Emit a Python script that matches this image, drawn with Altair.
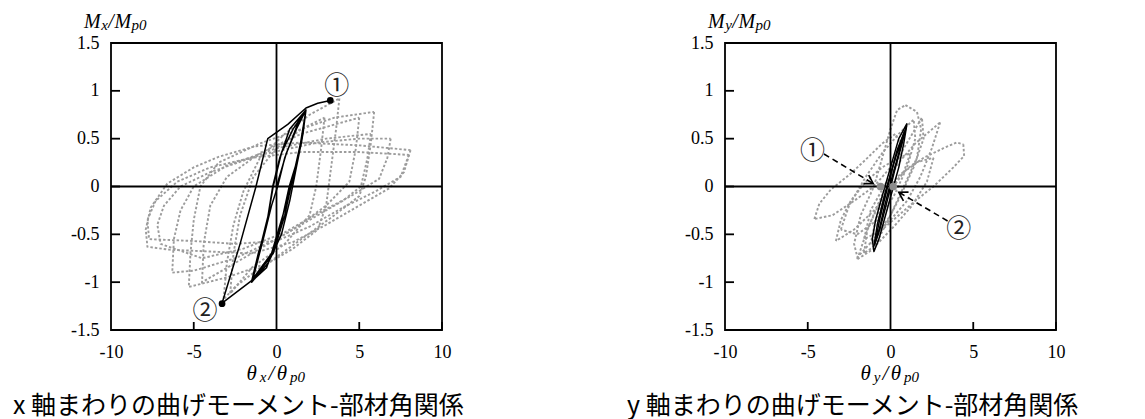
import math
import altair as alt
import pandas as pd

# ---------------- shared axis values ----------------
X_TICKS = [-10, -5, 0, 5, 10]
Y_TICKS = [-1.5, -1, -0.5, 0, 0.5, 1, 1.5]
X_INNER = [-5, 5]
Y_INNER = [-1.5, -1, -0.5, 0, 0.5, 1]

# ---------------- left panel: Mx/Mp0 vs θx/θp0 ----------------
# gray dotted loops (theta, M)
lg1 = [(3.8, 0.92), (3.6, 0.6), (3.3, 0.2), (3.0, -0.2), (2.5, -0.45), (1.0, -0.65), (-1.0, -0.85),
       (-2.5, -1.05), (-3.2, -1.18), (-3.0, -0.8), (-2.6, -0.4), (-2.0, -0.05), (-1.0, 0.3),
       (0.5, 0.55), (2.0, 0.75), (3.8, 0.92)]
lg2 = [(5.9, 0.78), (5.7, 0.45), (5.4, 0.1), (5.0, -0.1), (3.5, -0.3), (1.5, -0.55), (-0.5, -0.8),
       (-3.0, -0.95), (-5.3, -1.05), (-5.2, -0.7), (-5.0, -0.35), (-4.6, 0.0), (-3.5, 0.25),
       (-1.0, 0.45), (1.5, 0.6), (3.5, 0.72), (5.9, 0.78)]
lg3 = [(8.1, 0.38), (7.7, 0.15), (6.8, -0.02), (5.0, -0.2), (3.0, -0.4), (1.0, -0.58), (-1.5, -0.7),
       (-4.0, -0.68), (-6.5, -0.66), (-7.8, -0.63), (-7.9, -0.45), (-7.6, -0.22), (-6.6, 0.03),
       (-5.0, 0.2), (-3.5, 0.31), (-1.3, 0.42), (1.5, 0.46), (5.0, 0.43), (8.1, 0.38)]
lg4 = [(8.0, 0.33), (7.5, 0.1), (6.0, -0.05), (4.0, -0.22), (2.0, -0.42), (0.0, -0.57), (-2.5, -0.6),
       (-5.0, -0.57), (-7.7, -0.55), (-7.8, -0.35), (-7.3, -0.15), (-6.0, 0.05), (-4.0, 0.2),
       (-1.5, 0.3), (1.5, 0.36), (5.0, 0.36), (8.0, 0.33)]
lg5 = [(5.7, 0.55), (5.5, 0.3), (5.1, 0.0), (4.0, -0.15), (2.0, -0.35), (0.0, -0.55), (-2.5, -0.75),
       (-5.0, -0.88), (-6.3, -0.9), (-6.2, -0.55), (-5.8, -0.25), (-5.0, 0.0), (-3.0, 0.22),
       (0.0, 0.4), (3.0, 0.5), (5.7, 0.55)]
lg6 = [(5.0, 0.72), (4.8, 0.4), (4.4, 0.05), (3.0, -0.2), (1.0, -0.45), (-1.5, -0.7), (-4.0, -0.95),
       (-4.5, -1.0), (-4.4, -0.6), (-4.0, -0.2), (-3.0, 0.1), (-1.0, 0.35), (1.5, 0.55), (5.0, 0.72)]
lg7 = [(2.9, 0.72), (2.7, 0.4), (2.4, 0.0), (2.0, -0.3), (0.5, -0.6), (-1.5, -0.85), (-2.8, -1.12),
       (-2.6, -0.7), (-2.2, -0.3), (-1.4, 0.1), (0.0, 0.4), (1.5, 0.6), (2.9, 0.72)]
lg8 = [(6.9, 0.5), (6.7, 0.3), (6.2, 0.08), (4.5, -0.1), (2.5, -0.28), (0.5, -0.48), (-2.0, -0.65),
       (-4.5, -0.75), (-7.0, -0.6), (-7.2, -0.4), (-6.8, -0.2), (-5.8, 0.0), (-4.0, 0.15),
       (-1.0, 0.33), (2.5, 0.46), (5.0, 0.5), (6.9, 0.5)]
LEFT_GRAY = [lg1, lg2, lg3, lg4, lg5, lg6, lg7, lg8]

# black solid path
lb1 = [(0.0, 0.0), (0.6, 0.35), (1.2, 0.6), (1.78, 0.8),
       (1.55, 0.5), (1.2, 0.2), (0.8, -0.15), (0.3, -0.5), (-0.5, -0.8), (-1.5, -1.0),
       (-1.0, -0.65), (-0.5, -0.3), (-0.2, 0.0), (0.3, 0.35), (1.0, 0.6), (1.78, 0.8),
       (1.45, 0.45), (1.0, 0.1), (0.5, -0.3), (-0.2, -0.7), (-1.45, -0.98),
       (-0.8, -0.55), (-0.3, -0.2), (0.07, 0.0), (0.5, 0.3), (1.2, 0.62), (1.78, 0.8),
       (1.6, 0.55), (1.3, 0.3), (0.77, 0.0), (0.2, -0.45), (-0.6, -0.85), (-1.5, -0.99),
       (-1.1, -0.7), (-0.6, -0.4), (-0.23, 0.0), (0.2, 0.3), (0.8, 0.6), (1.78, 0.8),
       (1.5, 0.45), (1.1, 0.15), (0.47, -0.25), (-0.3, -0.7), (-1.54, -0.99),
       (-3.29, -1.22), (-2.2, -0.6), (-1.24, 0.0), (-0.53, 0.5), (0.68, 0.65), (1.78, 0.82),
       (2.49, 0.87), (3.25, 0.9)]
LEFT_BLACK = [lb1]
LEFT_DOTS = [(3.25, 0.9), (-3.29, -1.225)]
LEFT_LABELS = [(3.64, 1.05, "①"), (-4.32, -1.30, "②")]

# ---------------- right panel: My/Mp0 vs θy/θp0 ----------------
rg1 = [(0.9, 0.85), (1.6, 0.78), (1.85, 0.6), (1.6, 0.3), (0.8, 0.0), (0.0, -0.3), (-1.0, -0.55),
       (-2.0, -0.74), (-2.2, -0.6), (-1.8, -0.3), (-1.0, 0.0), (-0.5, 0.3), (0.0, 0.6), (0.4, 0.8),
       (0.9, 0.85)]
rg2 = [(4.4, 0.44), (4.45, 0.32), (3.8, 0.2), (2.6, 0.0), (1.5, -0.15), (0.5, -0.3), (-0.5, -0.45),
       (-1.2, -0.6), (-0.9, -0.35), (-0.2, -0.05), (0.8, 0.15), (2.0, 0.3), (3.2, 0.4), (4.0, 0.46),
       (4.4, 0.44)]
rg3 = [(-4.6, -0.34), (-4.3, -0.18), (-3.6, -0.03), (-2.5, 0.12), (-1.5, 0.28), (-0.5, 0.45),
       (0.3, 0.55), (0.6, 0.45), (0.0, 0.2), (-1.0, 0.0), (-2.2, -0.15), (-3.5, -0.3), (-4.6, -0.34)]
rg4 = [(3.0, 0.67), (2.5, 0.4), (1.8, 0.1), (1.0, -0.15), (0.0, -0.35), (-1.0, -0.5), (-1.6, -0.55),
       (-1.2, -0.25), (-0.4, 0.0), (0.5, 0.25), (1.5, 0.45), (3.0, 0.67)]
rg5 = [(-3.3, -0.57), (-3.0, -0.35), (-2.4, -0.15), (-1.5, 0.05), (-0.5, 0.2), (0.5, 0.3),
       (1.2, 0.35), (0.8, 0.15), (0.0, -0.05), (-1.0, -0.25), (-2.2, -0.45), (-3.3, -0.57)]
rg6 = [(-2.0, -0.76), (-1.5, -0.5), (-0.8, -0.2), (0.0, 0.1), (0.8, 0.4), (1.9, 0.72), (2.0, 0.5),
       (1.4, 0.2), (0.6, -0.1), (-0.3, -0.4), (-1.0, -0.65), (-2.0, -0.76)]
rg7 = [(-3.0, -0.45), (-2.5, -0.2), (-1.5, 0.1), (-0.5, 0.35), (0.5, 0.55), (1.4, 0.7), (1.5, 0.5),
       (1.0, 0.2), (0.2, -0.1), (-0.8, -0.35), (-2.0, -0.5), (-3.0, -0.45)]
rg8 = [(2.6, 0.3), (2.2, 0.05), (1.3, -0.2), (0.3, -0.4), (-0.8, -0.6), (-1.6, -0.7), (-1.4, -0.45),
       (-0.6, -0.15), (0.4, 0.1), (1.5, 0.25), (2.6, 0.3)]
RIGHT_GRAY = [rg1, rg2, rg3, rg4, rg5, rg6, rg7, rg8]

rb1 = [(1.0, 0.66), (0.5, 0.5), (0.0, 0.2), (-0.5, -0.1), (-0.9, -0.35), (-1.1, -0.55), (-1.0, -0.68),
       (-0.7, -0.55), (-0.3, -0.3), (0.1, -0.05), (0.5, 0.2), (0.8, 0.45), (1.0, 0.66)]
rb2 = [(0.95, 0.62), (0.4, 0.38), (-0.1, 0.05), (-0.6, -0.3), (-0.95, -0.6), (-0.6, -0.42),
       (-0.2, -0.15), (0.3, 0.2), (0.7, 0.45), (0.95, 0.62)]
rb3 = [(0.85, 0.58), (0.3, 0.3), (-0.3, -0.05), (-0.8, -0.4), (-1.0, -0.62), (-0.75, -0.5),
       (-0.35, -0.2), (0.1, 0.1), (0.55, 0.38), (0.85, 0.58)]
RIGHT_BLACK = [rb1, rb2, rb3]
RIGHT_DOTS = [(-0.6, 0.0), (0.16, 0.0)]
RIGHT_LABELS = [(-4.72, 0.37, "①"), (4.12, -0.44, "②")]
RIGHT_ARROWS = [[(-4.02, 0.34), (-1.04, 0.03)], [(3.45, -0.36), (0.5, -0.06)]]

# ---------------- texts ----------------
LEFT_TITLE = "x 軸まわりの曲げモーメント-部材角関係"
RIGHT_TITLE = "y 軸まわりの曲げモーメント-部材角関係"
LEFT_YT = [("M", 20, 0.833), ("x", 15, 0.444), ("/", 20, 0.278), ("M", 20, 0.833), ("p0", 15, 1.0)]
RIGHT_YT = [("M", 20, 0.833), ("y", 15, 0.444), ("/", 20, 0.278), ("M", 20, 0.833), ("p0", 15, 1.0)]
LEFT_XT = [("θ", 21, 0.56), ("x", 15, 0.48), ("/", 21, 0.32), ("θ", 21, 0.56), ("p0", 15, 1.0)]
RIGHT_XT = [("θ", 21, 0.56), ("y", 15, 0.48), ("/", 21, 0.32), ("θ", 21, 0.56), ("p0", 15, 1.0)]

W, H = 331, 287
SERIF = "Liberation Serif"
CJK = "Noto Sans CJK JP"

xs = alt.Scale(domain=[-10, 10], nice=False, zero=False)
ys = alt.Scale(domain=[-1.5, 1.5], nice=False, zero=False)
xax = alt.Axis(values=X_TICKS, labelExpr="datum.value + ''", title=None, domain=False, ticks=False,
               tickSize=0, grid=False, labelFont=SERIF, labelFontSize=18, labelColor="black",
               labelPadding=13, labelFlush=False, labelOverlap=False)
yax = alt.Axis(values=Y_TICKS, labelExpr="datum.value + ''", title=None, domain=False, ticks=False,
               tickSize=0, grid=False, labelFont=SERIF, labelFontSize=18, labelColor="black",
               labelPadding=12, labelFlush=False, labelOverlap=False)


def X(f):
    return alt.X(f, type="quantitative", scale=xs, axis=xax)


def Y(f):
    return alt.Y(f, type="quantitative", scale=ys, axis=yax)


def loops_df(loops):
    rows = []
    for i, lp in enumerate(loops):
        for j, (t, m) in enumerate(lp):
            rows.append({"loop": i, "ord": j, "t": t, "m": m})
    return pd.DataFrame(rows)


def pieces_layers(pieces, x0, y0, sub_dy, gap):
    layers = []
    cx = x0
    for txt, fs, wf in pieces:
        dy = sub_dy if fs < 18 else 0
        layers.append(
            alt.Chart().mark_text(text=txt, font=SERIF, fontSize=fs, fontStyle="italic", align="left",
                                  baseline="alphabetic", color="black")
            .encode(x=alt.value(cx), y=alt.value(y0 + dy))
        )
        cx += fs * wf + gap
    return layers


def width_of(pieces, gap):
    return sum(fs * wf + gap for _, fs, wf in pieces)


def panel(gray, black, dots, dot_color, dot_size, labels, arrows, yt, ytx, xt, title):
    gdf = loops_df(gray)
    bdf = loops_df(black)
    layers = []
    layers.append(
        alt.Chart(gdf).mark_line(color="#9c9c9c", strokeWidth=1.9, strokeDash=[2.5, 2])
        .encode(x=X("t"), y=Y("m"), detail="loop:N", order="ord:Q")
    )
    zero = pd.DataFrame({"v": [0]})
    layers.append(alt.Chart(zero).mark_rule(color="black", strokeWidth=1.8).encode(x=X("v")))
    layers.append(alt.Chart(zero).mark_rule(color="black", strokeWidth=1.8).encode(y=Y("v")))
    layers.append(
        alt.Chart(pd.DataFrame({"v": Y_INNER})).mark_rule(color="black", strokeWidth=1.8)
        .encode(y=Y("v"), x=alt.value(0), x2=alt.value(9))
    )
    layers.append(
        alt.Chart(pd.DataFrame({"v": X_INNER + [10]})).mark_rule(color="black", strokeWidth=1.8)
        .encode(x=X("v"), y=alt.value(H), y2=alt.value(H - 8))
    )
    layers.append(
        alt.Chart(bdf).mark_line(color="black", strokeWidth=1.5, strokeJoin="round")
        .encode(x=X("t"), y=Y("m"), detail="loop:N", order="ord:Q")
    )
    if arrows:
        adf = loops_df(arrows)
        layers.append(
            alt.Chart(adf).mark_line(color="black", strokeWidth=1.6, strokeDash=[6, 4])
            .encode(x=X("t"), y=Y("m"), detail="loop:N", order="ord:Q")
        )
        heads = []
        for a in arrows:
            (t0, m0), (t1, m1) = a[0], a[-1]
            dx = (t1 - t0) * W / 20.0
            dy = -(m1 - m0) * H / 3.0
            ang = math.degrees(math.atan2(dy, dx)) % 360
            heads.append({"t": t1, "m": m1, "ang": ang})
        layers.append(
            alt.Chart(pd.DataFrame(heads))
            .mark_point(shape="M -1 -0.6 L 0 0 L -1 0.6", filled=False, color="black", strokeWidth=1.6,
                        size=280, opacity=1)
            .encode(x=X("t"), y=Y("m"), angle=alt.Angle("ang:Q", scale=None))
        )
    ddf = pd.DataFrame([{"t": t, "m": m} for t, m in dots])
    layers.append(
        alt.Chart(ddf).mark_circle(color=dot_color, size=dot_size, opacity=1).encode(x=X("t"), y=Y("m"))
    )
    ldf = pd.DataFrame([{"t": t, "m": m, "s": s} for t, m, s in labels])
    layers.append(
        alt.Chart(ldf).mark_text(font=CJK, fontSize=25, color="#222222", baseline="middle", align="center")
        .encode(x=X("t"), y=Y("m"), text="s:N")
    )
    layers += pieces_layers(yt, ytx, -15, 2, 0.5)
    layers += pieces_layers(xt, W / 2 - width_of(xt, 1.5) / 2, H + 50, 1.5, 1.5)
    layers.append(
        alt.Chart().mark_text(text=title, font=CJK, fontSize=25, align="left", baseline="alphabetic",
                              color="black")
        .encode(x=alt.value(-98), y=alt.value(H + 83.5))
    )
    return alt.layer(*layers).properties(width=W, height=H)


left = panel(LEFT_GRAY, LEFT_BLACK, LEFT_DOTS, "black", 45, LEFT_LABELS, None,
             LEFT_YT, -27, LEFT_XT, LEFT_TITLE)
right = panel(RIGHT_GRAY, RIGHT_BLACK, RIGHT_DOTS, "#8c8c8c", 60, RIGHT_LABELS, RIGHT_ARROWS,
              RIGHT_YT, -17, RIGHT_XT, RIGHT_TITLE)

chart = (
    alt.hconcat(left, right, spacing=283, bounds="flush")
    .properties(padding={"left": 4, "top": 3, "right": 5, "bottom": 0}, background="white")
    .configure_view(stroke="black", strokeWidth=1.8)
)

chart.save("out.html", embed_options={"renderer": "svg", "actions": False})
